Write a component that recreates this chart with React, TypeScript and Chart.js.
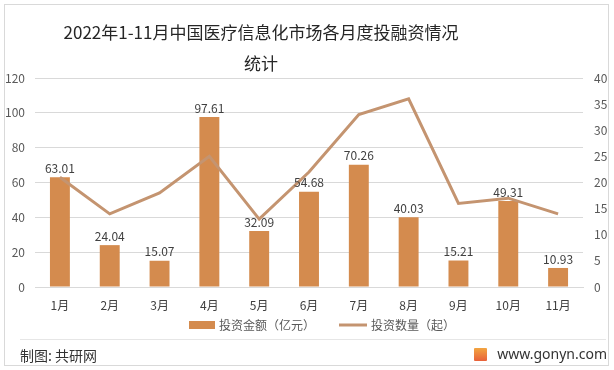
import React, { useEffect, useRef } from "react";
import { Chart, registerables } from "chart.js";

Chart.register(...registerables);

const titleLine1 = "2022年1-11月中国医疗信息化市场各月度投融资情况";
const titleLine2 = "统计";
const months = ["1月", "2月", "3月", "4月", "5月", "6月", "7月", "8月", "9月", "10月", "11月"];
const amounts = [63.01, 24.04, 15.07, 97.61, 32.09, 54.68, 70.26, 40.03, 15.21, 49.31, 10.93];
const counts = [21, 14, 18, 25, 13, 22, 33, 36, 16, 17, 14];
const seriesNames = ["投资金额（亿元）", "投资数量（起）"];
const leftAxis = { min: 0, max: 120, step: 20 };
const rightAxis = { min: 0, max: 40, step: 5 };

const BAR_COLOR = "#D48B4E";
const LINE_COLOR = "#C49470";
const CJK = '"Noto Sans CJK SC", "Noto Sans", sans-serif';

const labelPlugin = {
  id: "barValueLabels",
  afterDatasetsDraw(chart: any) {
    const ctx = chart.ctx;
    const meta = chart.getDatasetMeta(0);
    ctx.save();
    ctx.font = `12px ${CJK}`;
    ctx.fillStyle = "#404040";
    ctx.textAlign = "center";
    ctx.textBaseline = "bottom";
    meta.data.forEach((bar: any, i: number) => {
      ctx.fillText(amounts[i].toFixed(2), bar.x, bar.y - 3);
    });
    ctx.restore();
  },
};

// legend drawn below the x axis, centred like the reference
const legendPlugin = {
  id: "bottomLegend",
  afterDraw(chart: any) {
    const ctx = chart.ctx;
    ctx.save();
    ctx.font = `12px ${CJK}`;
    ctx.textBaseline = "middle";
    ctx.textAlign = "left";
    const y = chart.chartArea.bottom + 38;
    const sw = 26, gapText = 4, gapItem = 24;
    const w0 = ctx.measureText(seriesNames[0]).width;
    const w1 = ctx.measureText(seriesNames[1]).width;
    const total = sw + gapText + w0 + gapItem + sw + 2 + gapText + w1;
    let x = 322 - total / 2;
    ctx.fillStyle = BAR_COLOR;
    ctx.fillRect(x, y - 4, sw, 8);
    x += sw + gapText;
    ctx.fillStyle = "#595959";
    ctx.fillText(seriesNames[0], x, y);
    x += w0 + gapItem;
    ctx.strokeStyle = LINE_COLOR;
    ctx.lineWidth = 3;
    ctx.beginPath();
    ctx.moveTo(x, y);
    ctx.lineTo(x + sw + 2, y);
    ctx.stroke();
    x += sw + 2 + gapText;
    ctx.fillText(seriesNames[1], x, y);
    ctx.restore();
  },
};

export default function App() {
  const ref = useRef<HTMLCanvasElement>(null);
  useEffect(() => {
    document.body.style.margin = "0";
    const chart = new Chart(ref.current!, {
      type: "bar",
      data: {
        labels: months,
        datasets: [
          {
            type: "bar",
            label: seriesNames[0],
            data: amounts,
            backgroundColor: BAR_COLOR,
            yAxisID: "y",
            barPercentage: 0.4,
            categoryPercentage: 1,
            order: 2,
          },
          {
            type: "line",
            label: seriesNames[1],
            data: counts,
            borderColor: LINE_COLOR,
            backgroundColor: LINE_COLOR,
            borderWidth: 3,
            pointRadius: 0,
            tension: 0,
            yAxisID: "y1",
            order: 1,
          },
        ],
      },
      options: {
        animation: false,
        responsive: false,
        layout: { padding: { top: 78, left: 0, right: 0, bottom: 32 } },
        plugins: {
          title: { display: false },
          tooltip: { enabled: false },
          legend: { display: false },
        },
        scales: {
          x: {
            grid: { display: false, drawTicks: false },
            border: { display: true, color: "#d9d9d9" },
            ticks: { color: "#404040", font: { size: 12, family: CJK }, padding: 11 },
            afterFit: (s: any) => { s.height = 27; },
          },
          y: {
            position: "left",
            min: leftAxis.min,
            max: leftAxis.max,
            ticks: { stepSize: leftAxis.step, color: "#595959", font: { size: 12, family: CJK }, padding: 10 },
            grid: { color: "#d9d9d9", drawTicks: false },
            border: { display: false },
            afterFit: (s: any) => { s.width = 35; },
          },
          y1: {
            position: "right",
            min: rightAxis.min,
            max: rightAxis.max,
            ticks: { stepSize: rightAxis.step, color: "#595959", font: { size: 12, family: CJK }, padding: 11 },
            grid: { display: false, drawTicks: false },
            border: { display: false },
            afterFit: (s: any) => { s.width = 31; },
          },
        },
      },
      plugins: [labelPlugin, legendPlugin],
    });
    return () => chart.destroy();
  }, []);

  return (
    <div style={{ position: "fixed", left: 0, top: 0, width: 614, height: 370, background: "#fff", fontFamily: CJK }}>
      <div style={{ position: "absolute", left: 4, top: 4, width: 603, height: 360, border: "1px solid #d9d9d9" }} />
      <canvas ref={ref} width={614} height={346} style={{ position: "absolute", left: 0, top: 0 }} />
      <div style={{ position: "absolute", left: 0, width: 522, top: 21, textAlign: "center", fontSize: 17, lineHeight: "22px", color: "#262626", whiteSpace: "nowrap" }}>{titleLine1}</div>
      <div style={{ position: "absolute", left: 0, width: 522, top: 52, textAlign: "center", fontSize: 17, lineHeight: "22px", color: "#262626" }}>{titleLine2}</div>
      <div style={{ position: "absolute", left: 20, top: 339, width: 586, height: 1, background: "#e6e6e6" }} />
      <div style={{ position: "absolute", left: 20, top: 346, fontSize: 14, lineHeight: "18px", color: "#333" }}>制图: 共研网</div>
      <div style={{ position: "absolute", right: 7, top: 344, display: "flex", alignItems: "center", fontSize: 14, lineHeight: "20px", color: "#333", fontFamily: '"Noto Sans", sans-serif' }}>
        <span style={{ display: "inline-block", width: 13, height: 13, background: "linear-gradient(#f2a541, #e8613a)", marginRight: 10, borderRadius: 1 }} />
        www.gonyn.com
      </div>
    </div>
  );
}
